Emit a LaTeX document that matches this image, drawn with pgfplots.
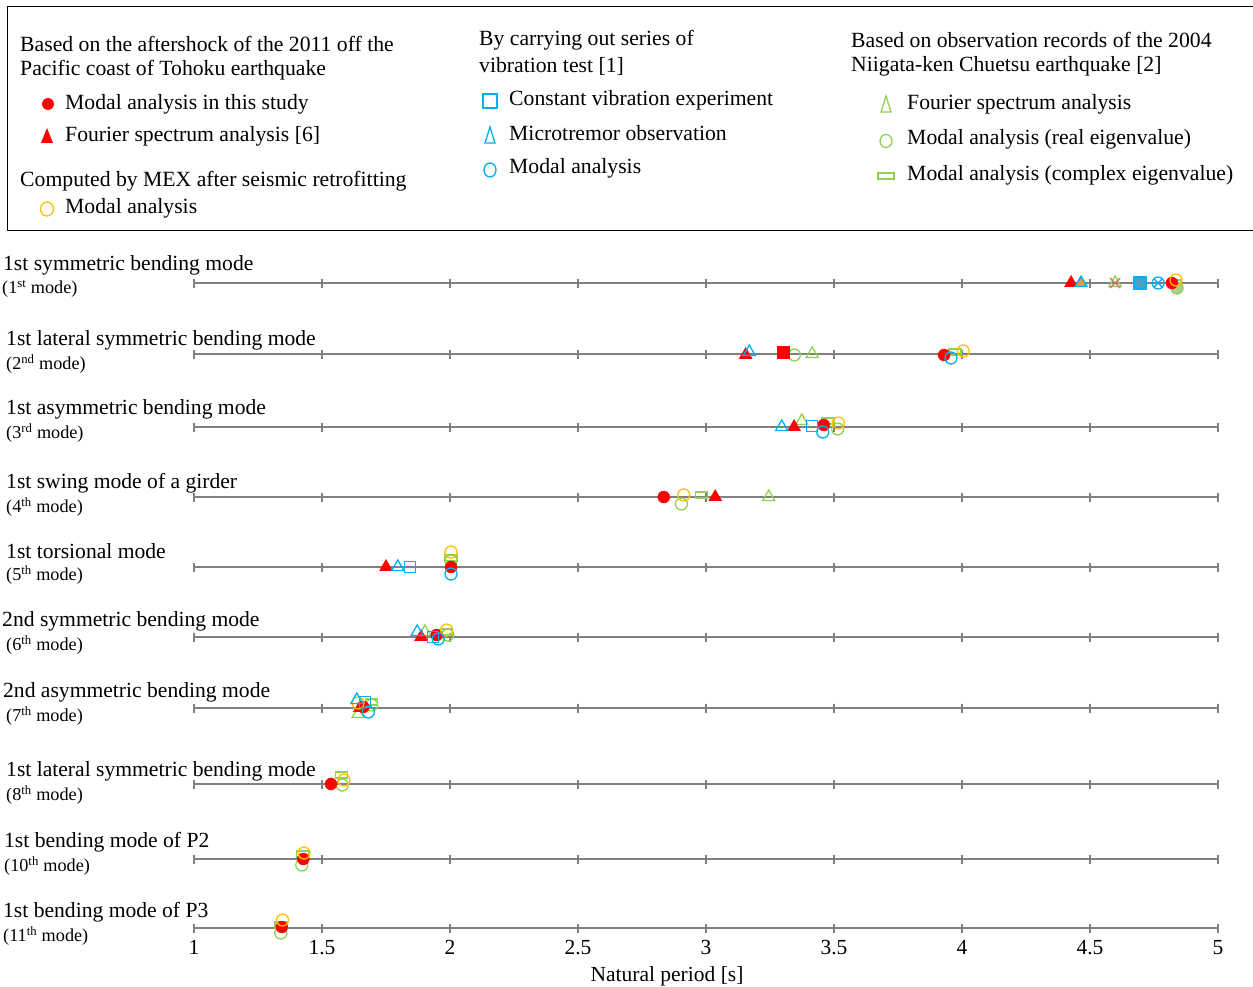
\documentclass[border=0pt]{standalone}
\usepackage{fontspec}
\setmainfont{Liberation Serif}
\usepackage{pgfplots}
\pgfplotsset{compat=1.18}
\definecolor{redm}{HTML}{FF0000}
\definecolor{bluem}{HTML}{00B0F0}
\definecolor{greenm}{HTML}{92D050}
\definecolor{yellowm}{HTML}{FFC000}
\definecolor{rowgray}{HTML}{808080}
\definecolor{orangem}{HTML}{E8955A}
\definecolor{brownm}{HTML}{C08070}
\definecolor{bluefill}{HTML}{3FA2C8}
\definecolor{greenfill}{HTML}{A9D18E}
\newcommand{\lf}{\fontsize{21.7}{26}\selectfont}
\newcommand{\rf}{\fontsize{21.6}{24}\selectfont}
\newcommand{\subf}{\fontsize{18.2}{20}\selectfont}
\begin{document}
\begin{tikzpicture}
\useasboundingbox (0,0) rectangle (1253pt,-987pt);
% legend box
\draw[black, line width=1pt] (1253pt,-7pt) -- (7pt,-7pt) -- (7pt,-231pt) -- (1253pt,-231pt);
% column 1
\node[anchor=west, inner sep=0pt, font=\lf] at (20pt,-44pt) {Based on the aftershock of the 2011 off the};
\node[anchor=west, inner sep=0pt, font=\lf] at (20pt,-70pt) {Pacific coast of Tohoku earthquake};
\fill[redm] (48pt,-104pt) circle (6pt);
\node[anchor=west, inner sep=0pt, font=\lf] at (65pt,-104pt) {Modal analysis in this study};
\fill[redm] (41pt,-143pt) -- (53pt,-143pt) -- (47pt,-128pt) -- cycle;
\node[anchor=west, inner sep=0pt, font=\lf] at (65pt,-136pt) {Fourier spectrum analysis [6]};
\node[anchor=west, inner sep=0pt, font=\lf] at (20pt,-181pt) {Computed by MEX after seismic retrofitting};
\draw[yellowm, line width=1.3pt] (47pt,-209pt) ellipse (6.5pt and 7pt);
\node[anchor=west, inner sep=0pt, font=\lf] at (65pt,-208pt) {Modal analysis};
% column 2
\node[anchor=west, inner sep=0pt, font=\lf] at (479pt,-40pt) {By carrying out series of};
\node[anchor=west, inner sep=0pt, font=\lf] at (479pt,-66pt) {vibration test [1]};
\draw[bluem, line width=1.3pt] (483pt,-94pt) rectangle (497pt,-108pt);
\node[anchor=west, inner sep=0pt, font=\lf] at (509pt,-100pt) {Constant vibration experiment};
\draw[bluem, line width=1.3pt] (485pt,-143pt) -- (495pt,-143pt) -- (490pt,-127pt) -- cycle;
\node[anchor=west, inner sep=0pt, font=\lf] at (509pt,-133pt) {Microtremor observation};
\draw[bluem, line width=1.3pt] (490pt,-170pt) ellipse (6pt and 7pt);
\node[anchor=west, inner sep=0pt, font=\lf] at (509pt,-168pt) {Modal analysis};
% column 3
\node[anchor=west, inner sep=0pt, font=\lf] at (851pt,-40pt) {Based on observation records of the 2004};
\node[anchor=west, inner sep=0pt, font=\lf] at (851pt,-66pt) {Niigata-ken Chuetsu earthquake [2]};
\draw[greenm, line width=1.3pt] (881pt,-112pt) -- (891pt,-112pt) -- (886pt,-96pt) -- cycle;
\node[anchor=west, inner sep=0pt, font=\lf] at (907pt,-104pt) {Fourier spectrum analysis};
\draw[greenm, line width=1.3pt] (886pt,-141pt) ellipse (6pt and 6.5pt);
\node[anchor=west, inner sep=0pt, font=\lf] at (907pt,-139pt) {Modal analysis (real eigenvalue)};
\draw[greenm, line width=1.3pt] (878pt,-173pt) rectangle (894pt,-179pt);
\node[anchor=west, inner sep=0pt, font=\lf] at (907pt,-175pt) {Modal analysis (complex eigenvalue)};
% row labels
\node[anchor=west, inner sep=0pt, font=\rf] at (3pt,-265pt) {1st symmetric bending mode};
\node[anchor=west, inner sep=0pt, font=\subf] at (2pt,-289pt) {(1\textsuperscript{st} mode)};
\node[anchor=west, inner sep=0pt, font=\rf] at (6pt,-340pt) {1st lateral symmetric bending mode};
\node[anchor=west, inner sep=0pt, font=\subf] at (6pt,-364pt) {(2\textsuperscript{nd} mode)};
\node[anchor=west, inner sep=0pt, font=\rf] at (6pt,-409pt) {1st asymmetric bending mode};
\node[anchor=west, inner sep=0pt, font=\subf] at (6pt,-433pt) {(3\textsuperscript{rd} mode)};
\node[anchor=west, inner sep=0pt, font=\rf] at (6pt,-483pt) {1st swing mode of a girder};
\node[anchor=west, inner sep=0pt, font=\subf] at (6pt,-507pt) {(4\textsuperscript{th} mode)};
\node[anchor=west, inner sep=0pt, font=\rf] at (6pt,-551pt) {1st torsional mode};
\node[anchor=west, inner sep=0pt, font=\subf] at (6pt,-575pt) {(5\textsuperscript{th} mode)};
\node[anchor=west, inner sep=0pt, font=\rf] at (2pt,-621pt) {2nd symmetric bending mode};
\node[anchor=west, inner sep=0pt, font=\subf] at (6pt,-645pt) {(6\textsuperscript{th} mode)};
\node[anchor=west, inner sep=0pt, font=\rf] at (3pt,-692pt) {2nd asymmetric bending mode};
\node[anchor=west, inner sep=0pt, font=\subf] at (6pt,-716pt) {(7\textsuperscript{th} mode)};
\node[anchor=west, inner sep=0pt, font=\rf] at (6pt,-771pt) {1st lateral symmetric bending mode};
\node[anchor=west, inner sep=0pt, font=\subf] at (6pt,-795pt) {(8\textsuperscript{th} mode)};
\node[anchor=west, inner sep=0pt, font=\rf] at (4pt,-842pt) {1st bending mode of P2};
\node[anchor=west, inner sep=0pt, font=\subf] at (4pt,-866pt) {(10\textsuperscript{th} mode)};
\node[anchor=west, inner sep=0pt, font=\rf] at (3pt,-912pt) {1st bending mode of P3};
\node[anchor=west, inner sep=0pt, font=\subf] at (3pt,-936pt) {(11\textsuperscript{th} mode)};
\node[inner sep=0pt, font=\fontsize{21.5}{24}\selectfont] at (667pt,-976pt) {Natural period [s]};
\begin{axis}[
  at={(194pt,-928pt)}, anchor=south west,
  x=256pt, y=1pt,
  xmin=1, xmax=5, ymin=-928, ymax=-260,
  clip=false,
  axis y line=none,
  axis x line*=bottom,
  x axis line style={draw=none},
  xtick={1,1.5,2,2.5,3,3.5,4,4.5,5},
  major tick length=0pt,
  /pgf/number format/assume math mode=true,
  xticklabel style={font=\fontsize{21.5}{24}\selectfont, inner sep=0pt, yshift=-12pt},
]
\pgfplotsinvokeforeach{-283,-354,-427,-497,-567,-637,-708,-784,-859,-928}{
  \addplot[rowgray, line width=1.5pt, mark=|, mark size=4.5pt, mark options={solid, line width=1.1pt}] coordinates {(1,#1)(1.5,#1)(2,#1)(2.5,#1)(3,#1)(3.5,#1)(4,#1)(4.5,#1)(5,#1)};
}
% green complex eigenvalue (rect)
\addplot[only marks, mark=square, mark size=3pt, mark options={greenm, line width=1.3pt, xscale=2}] coordinates {
(4.83,-283)(3.973,-352)(3.477,-421)(2.983,-495)(2.004,-558)(1.985,-632)(1.694,-702)(1.577,-775)(1.425,-854)(1.340,-925)};
% green real eigenvalue (circle)
\addplot[only marks, mark=o, mark size=6pt, mark options={greenm, line width=1.3pt}] coordinates {
(3.345,-355)(3.514,-429)(2.904,-504)(2.004,-561)(1.991,-635)(1.694,-705)(1.579,-785)(1.421,-865)(1.339,-933)};
\addplot[only marks, mark=*, mark size=6pt, mark options={draw=greenm, fill=greenfill, line width=1.3pt}] coordinates {(4.84,-288)};
% green Fourier (triangle)
\addplot[only marks, mark=triangle, mark size=7pt, mark options={greenm, line width=1.3pt}] coordinates {
(4.598,-283)(3.415,-354)(3.374,-421)(3.245,-497)(1.902,-632)(1.641,-714)};
\addplot[only marks, mark=x, mark size=7pt, mark options={brownm, line width=1.3pt}] coordinates {(4.598,-283)};
% red modal (circle)
\addplot[only marks, mark=*, mark size=6pt, mark options={draw=redm, fill=redm}] coordinates {
(4.82,-283)(3.930,-355)(3.460,-425)(2.835,-497)(2.004,-567)(1.948,-635)(1.661,-707)(1.535,-784)(1.427,-859)(1.343,-927)};
% red Fourier [6] (triangle)
\addplot[only marks, mark=triangle*, mark size=7.5pt, mark options={draw=redm, fill=redm}] coordinates {
(4.426,-283)(3.155,-355)(3.344,-427)(3.036,-497)(1.750,-567)(1.887,-637)(1.648,-708)};
\addplot[only marks, mark=square*, mark size=6pt, mark options={draw=redm, fill=redm}] coordinates {(3.302,-352)};
% yellow MEX (circle)
\addplot[only marks, mark=o, mark size=6pt, mark options={yellowm, line width=1.3pt}] coordinates {
(4.836,-280)(4.005,-351)(3.517,-423)(2.913,-495)(2.004,-552)(1.987,-630)(1.641,-703)(1.586,-780)(1.430,-853)(1.346,-920)};
% blue constant vibration (square)
\addplot[only marks, mark=square, mark size=5.5pt, mark options={bluem, line width=1.3pt}] coordinates {
(3.415,-426)(1.844,-567)(1.934,-637)(1.668,-702)};
\addplot[only marks, mark=square*, mark size=6pt, mark options={draw=bluem, fill=bluefill, line width=1.3pt}] coordinates {(4.695,-283)};
% blue microtremor (triangle)
\addplot[only marks, mark=triangle, mark size=7pt, mark options={bluem, line width=1.3pt}] coordinates {
(3.169,-352)(3.296,-427)(1.796,-567)(1.872,-632)(1.636,-700)};
\addplot[only marks, mark=triangle*, mark size=7pt, mark options={draw=bluem, fill=orangem, line width=1.3pt}] coordinates {(4.465,-283)};
% blue modal (circle)
\addplot[only marks, mark=o, mark size=6pt, mark options={bluem, line width=1.3pt}] coordinates {
(3.957,-358)(3.456,-432)(2.004,-574)(1.954,-639)(1.681,-712)};
\addplot[only marks, mark=otimes, mark size=6pt, mark options={bluem, line width=1.3pt}] coordinates {(4.766,-283)};
\end{axis}
\end{tikzpicture}
\end{document}
